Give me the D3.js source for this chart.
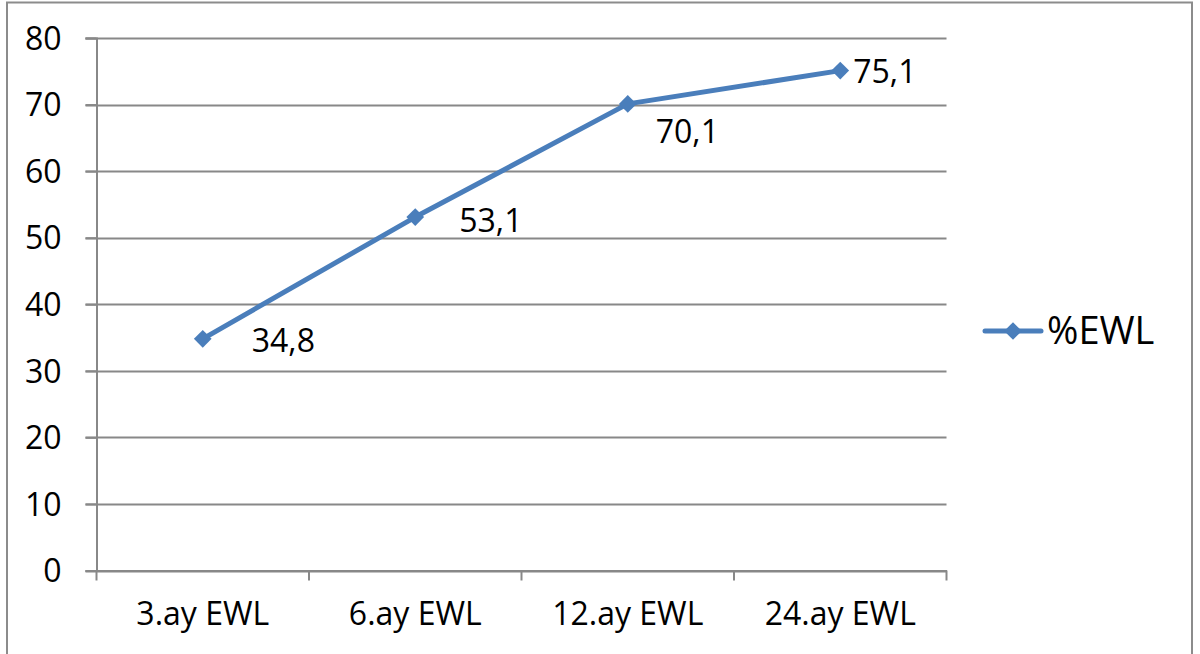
<!DOCTYPE html>
<html><head><meta charset="utf-8">
<script src="https://cdn.jsdelivr.net/npm/d3@7"></script>
<style>body{margin:0;background:#fff;} svg{display:block;font-family:"Open Sans","Liberation Sans",sans-serif;}</style>
</head><body>
<svg id="c" width="1200" height="654"></svg>
<script>
const categories = ["3.ay EWL","6.ay EWL","12.ay EWL","24.ay EWL"];
const values = [34.8, 53.1, 70.1, 75.1];
const labels = ["34,8","53,1","70,1","75,1"];
const yTicks = [0,10,20,30,40,50,60,70,80];
const seriesName = "%EWL";
// label placement nudges (px) relative to each point
const labelNudge = [[49,2],[44,4],[28,28],[13,1]];

const svg = d3.select("#c");
const color = "#4a7ebb", grid = "#888";
// outer frame
svg.append("path").attr("d","M7,654 V2.5 H1192 V654").attr("fill","none").attr("stroke","#8c8c8c").attr("stroke-width",2);

const L=96.5, R=946.5, T=38, B=570.5;
const x = d3.scaleBand().domain(categories).range([L,R]);
const y = d3.scaleLinear().domain([0,80]).range([B,T]);

// gridlines
svg.append("g").selectAll("line").data(yTicks).join("line")
  .attr("x1",L-11).attr("x2",R).attr("y1",d=>Math.round(y(d))+0.5).attr("y2",d=>Math.round(y(d))+0.5)
  .attr("stroke",grid).attr("stroke-width",2);

// y axis
const ya = svg.append("g").attr("transform",`translate(${L},0)`)
  .call(d3.axisLeft(y).tickValues(yTicks).tickSize(11).tickPadding(24));
ya.select(".domain").attr("stroke",grid).attr("stroke-width",2);
ya.selectAll(".tick line").attr("stroke",grid).attr("stroke-width",2);
ya.selectAll(".tick text").attr("font-size",32).attr("fill","#000").attr("font-family","Open Sans").attr("dy","0.35em");

// x axis
const xa = svg.append("g").attr("transform",`translate(0,${B})`)
  .call(d3.axisBottom(x).tickSize(0).tickPadding(32));
xa.select(".domain").attr("stroke",grid).attr("stroke-width",2);
xa.selectAll(".tick text").attr("font-size",32).attr("fill","#000").attr("font-family","Open Sans");
const bounds = [...categories.map(c=>x(c)), R];
svg.append("g").selectAll("line").data(bounds).join("line")
  .attr("x1",d=>d).attr("x2",d=>d).attr("y1",B).attr("y2",B+10)
  .attr("stroke",grid).attr("stroke-width",2);

const cx = d=>x(d)+x.bandwidth()/2;
const line = d3.line().x((d,i)=>cx(categories[i])).y(d=>y(d));
svg.append("path").datum(values).attr("d",line).attr("fill","none")
  .attr("stroke",color).attr("stroke-width",5).attr("stroke-linejoin","round");

const diamond = d3.symbol().type(d3.symbolDiamond2).size(200);
svg.append("g").selectAll("path").data(values).join("path")
  .attr("d",diamond).attr("transform",(d,i)=>`translate(${cx(categories[i])},${y(d)})`).attr("fill",color);

svg.append("g").selectAll("text").data(values).join("text")
  .attr("x",(d,i)=>cx(categories[i])+labelNudge[i][0]).attr("y",(d,i)=>y(d)+labelNudge[i][1])
  .attr("dy","0.35em").attr("font-size",32).text((d,i)=>labels[i]);

// legend
const lg = svg.append("g").attr("transform","translate(985,331)");
lg.append("line").attr("x1",0).attr("x2",56).attr("stroke",color).attr("stroke-width",5).attr("stroke-linecap","round");
lg.append("path").attr("d",diamond).attr("transform","translate(28,0)").attr("fill",color);
lg.append("text").attr("x",62).attr("dy","0.35em").attr("font-size",38).text(seriesName);
</script>
</body></html>
